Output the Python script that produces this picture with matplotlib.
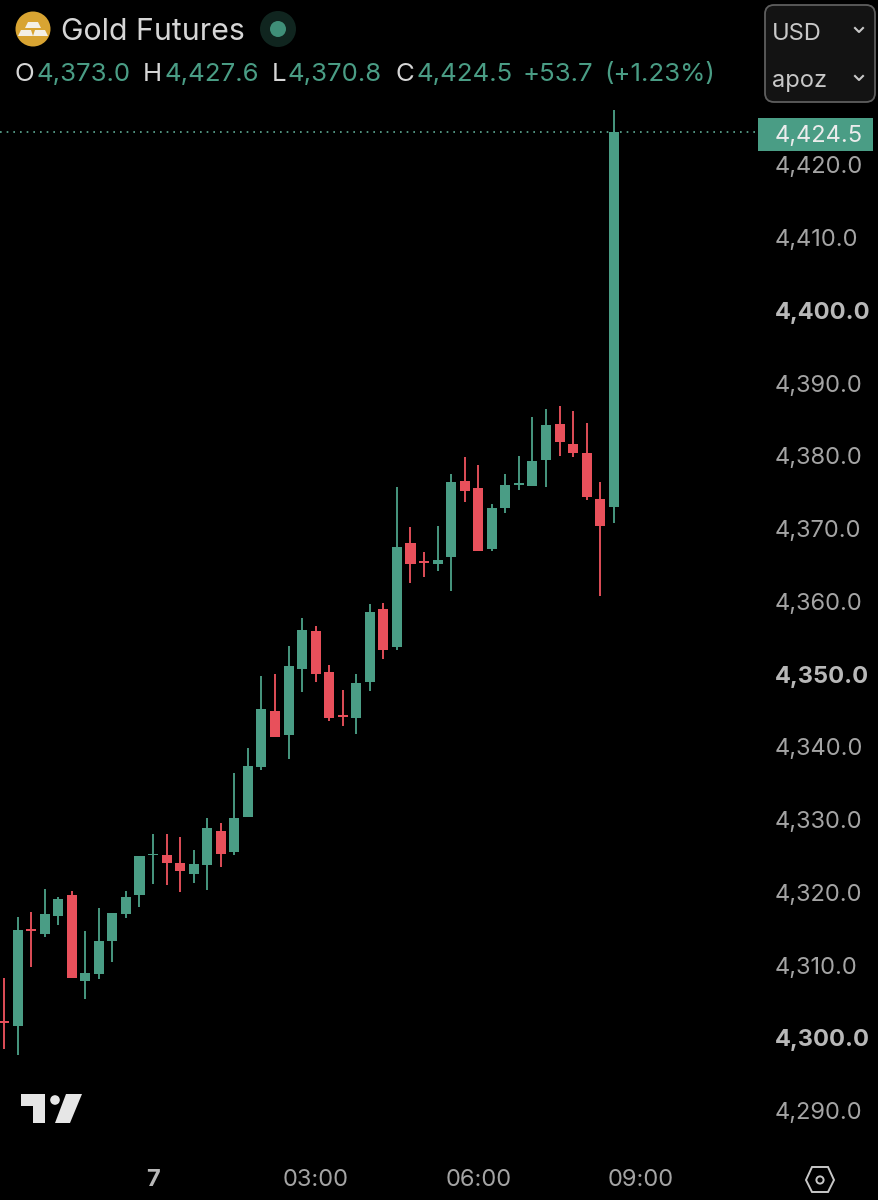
import matplotlib
matplotlib.use('Agg')
import matplotlib.pyplot as plt
from matplotlib.patches import Circle, FancyBboxPatch, Polygon, Rectangle
from matplotlib.transforms import blended_transform_factory

plt.rcParams['font.family'] = ['Inter', 'DejaVu Sans']

# 15 minute candles
opens = [4302.3, 4301.7, 4314.8, 4314.3, 4316.8, 4319.7, 4307.9, 4308.8, 4313.3, 4317.1, 4319.6, 4325.1,
         4325.2, 4324.1, 4322.6, 4323.8, 4328.5, 4325.6, 4330.4, 4337.3, 4344.9, 4341.6, 4350.7, 4355.9,
         4350.3, 4344.3, 4344.0, 4348.9, 4359.0, 4353.7, 4368.1, 4365.5, 4365.2, 4366.1, 4376.6, 4375.6,
         4367.2, 4372.8, 4376.0, 4375.9, 4379.5, 4384.4, 4381.7, 4380.4, 4374.1, 4373.0]
highs = [4308.2, 4316.6, 4317.3, 4320.5, 4319.4, 4320.2, 4314.7, 4317.9, 4317.2, 4320.2, 4325.0, 4328.0,
         4328.1, 4327.6, 4325.9, 4330.2, 4329.6, 4336.4, 4339.8, 4349.8, 4350.0, 4353.9, 4357.7, 4356.6,
         4351.3, 4347.8, 4350.0, 4359.7, 4359.8, 4375.7, 4370.3, 4366.8, 4370.4, 4377.5, 4379.8, 4378.8,
         4373.4, 4377.5, 4380.0, 4385.4, 4386.5, 4386.9, 4386.2, 4384.6, 4376.4, 4427.6]
lows = [4298.5, 4297.6, 4309.8, 4313.9, 4315.5, 4308.2, 4305.3, 4308.1, 4310.4, 4316.5, 4318.0, 4321.1,
        4321.0, 4320.0, 4321.3, 4320.3, 4323.5, 4325.1, 4330.4, 4336.9, 4341.4, 4338.4, 4347.6, 4348.9,
        4343.6, 4342.9, 4341.8, 4347.7, 4352.1, 4353.3, 4362.6, 4363.4, 4364.2, 4361.5, 4373.7, 4366.9,
        4367.0, 4372.2, 4375.3, 4375.9, 4375.8, 4380.0, 4379.9, 4373.9, 4360.8, 4370.8]
closes = [4302.1, 4314.8, 4314.7, 4317.0, 4319.1, 4308.2, 4308.9, 4313.3, 4317.2, 4319.4, 4325.0, 4325.2,
          4324.1, 4322.9, 4323.9, 4328.9, 4325.3, 4330.3, 4337.4, 4345.2, 4341.4, 4351.1, 4356.1, 4350.0,
          4344.0, 4344.1, 4348.8, 4358.6, 4353.4, 4367.5, 4365.2, 4365.3, 4365.7, 4376.4, 4375.2, 4366.9,
          4372.9, 4376.0, 4376.2, 4379.3, 4384.2, 4381.9, 4380.4, 4374.4, 4370.4, 4424.5]

price_ticks = [4420, 4410, 4400, 4390, 4380, 4370, 4360, 4350, 4340, 4330, 4320, 4310, 4300, 4290]
bold_ticks = [4400, 4350, 4300]
time_ticks = [11, 23, 35, 47]
time_labels = ['7', '03:00', '06:00', '09:00']
last_price = 4424.5

GREEN = '#4a9d85'
RED = '#e8505b'
LABEL = '#a4a4a4'
STEP = 13.55

fig = plt.figure(figsize=(8.79, 12), dpi=100, facecolor='black')

ax = fig.add_axes([0, 0, 1, 1])
ax.set_facecolor('black')
ax.set_xlim(-4 / STEP, (879 - 4) / STEP)
ax.set_ylim(4277.73, 4442.68)
ax.axis('off')

# overlay in pixels for the ui bits
ui = fig.add_axes([0, 0, 1, 1], zorder=5)
ui.set_xlim(0, 879)
ui.set_ylim(1200, 0)
ui.axis('off')
ui.patch.set_alpha(0)

for i in range(len(opens)):
    c = GREEN if closes[i] >= opens[i] else RED
    ax.vlines(i, lows[i], highs[i], color=c, linewidth=1.35, zorder=2)
    bottom = min(opens[i], closes[i])
    h = max(abs(closes[i] - opens[i]), 0.25)
    ax.bar(i, h, width=0.74, bottom=bottom, color=c, linewidth=0, zorder=3)

ax.hlines(last_price, -0.3, 55.5, color='#5fae97', linewidth=1.2, linestyle=(0, (1, 3)), zorder=1)

# price scale
trans = blended_transform_factory(ui.transData, ax.transData)
for p in price_ticks:
    bold = p in bold_ticks
    ax.text(775, p, f'{p:,.1f}', transform=trans, color='#b8b8b8' if bold else LABEL, fontsize=17,
            fontweight='bold' if bold else 'normal', va='center_baseline', ha='left')

ui.add_patch(Rectangle((758, 118), 115, 33, facecolor=GREEN, edgecolor='none', zorder=6))
ui.text(775, 133, f'{last_price:,.1f}', color='#ececec', fontsize=17, va='center_baseline', ha='left', zorder=7)

# time scale
for t, lab in zip(time_ticks, time_labels):
    ui.text(4 + STEP * t, 1180, lab, color='#b8b8b8' if lab == '7' else LABEL, fontsize=17,
            fontweight='bold' if lab == '7' else 'normal', ha='center', va='center')

# header
ui.add_patch(Circle((33, 29), 17.5, facecolor='#d8a432', edgecolor='none'))
ui.add_patch(Polygon([[28, 22], [38, 22], [41, 28], [25, 28]], facecolor='#f4f0e6', edgecolor='none'))
ui.add_patch(Polygon([[21, 30], [31, 30], [33, 36], [18, 36]], facecolor='#f4f0e6', edgecolor='none'))
ui.add_patch(Polygon([[35, 30], [45, 30], [48, 36], [33, 36]], facecolor='#f4f0e6', edgecolor='none'))
ui.text(61, 29, 'Gold Futures', color='#d6d6d6', fontsize=21.8, va='center_baseline', ha='left')
ui.add_patch(Circle((278, 29), 18, facecolor='#10251f', edgecolor='none'))
ui.add_patch(Circle((278, 29), 8, facecolor='#3f8f78', edgecolor='none'))

row = [(15, 'O', '#d6d6d6'), (37, '4,373.0', GREEN), (143, 'H', '#d6d6d6'), (165, '4,427.6', GREEN),
       (272, 'L', '#d6d6d6'), (288, '4,370.8', GREEN), (396, 'C', '#d6d6d6'), (417, '4,424.5', GREEN),
       (523, '+53.7', GREEN), (604, '(+1.23%)', GREEN)]
for x, s, c in row:
    ui.text(x, 72, s, color=c, fontsize=18.6, va='center_baseline', ha='left')

# currency / unit dropdown
ui.add_patch(FancyBboxPatch((765, 5), 110, 97, boxstyle='round,pad=0,rounding_size=9', transform=ui.transData,
                            facecolor='#131313', edgecolor='#5e5e5e', linewidth=1.3, zorder=6))
ui.text(772, 31, 'USD', color='#c8c8c8', fontsize=17, va='center_baseline', ha='left', zorder=7)
ui.text(772, 79, 'apoz', color='#c8c8c8', fontsize=17, va='center_baseline', ha='left', zorder=7)
for y in [30, 78]:
    ui.plot([855, 859, 863], [y - 2, y + 2, y - 2], color='#c8c8c8', linewidth=1.5, zorder=7)

# tradingview mark
ui.add_patch(Polygon([[21, 1094], [45, 1094], [45, 1123], [33, 1123], [33, 1106], [21, 1106]],
                     facecolor='#e6e6e6', edgecolor='none'))
ui.add_patch(Circle((55, 1100), 4.8, facecolor='#e6e6e6', edgecolor='none'))
ui.add_patch(Polygon([[66, 1094], [82, 1094], [70, 1123], [55, 1123]], facecolor='#e6e6e6', edgecolor='none'))

# settings hexagon
ui.add_patch(Polygon([[812, 1167], [828, 1167], [834, 1180], [828, 1192], [812, 1192], [806, 1180]],
                     facecolor='none', edgecolor='#c8c8c8', linewidth=1.4))
ui.add_patch(Circle((820, 1180), 3.6, facecolor='none', edgecolor='#c8c8c8', linewidth=1.4))

fig.savefig('out.png', dpi=100, facecolor='black')
